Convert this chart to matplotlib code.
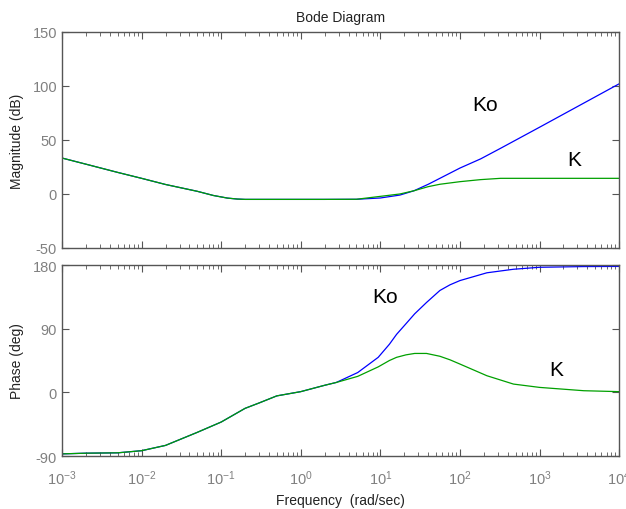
import numpy as np
import matplotlib
matplotlib.use("Agg")
import matplotlib.pyplot as plt
from matplotlib.ticker import LogLocator, NullFormatter, FixedLocator, FuncFormatter

# Bode diagram of Ko (open) vs K (controller)

# magnitude panel
mag_freq = [1e-3, 2e-3, 5e-3, 1e-2, 2e-2, 5e-2, 0.08, 0.12, 0.16, 0.2, 0.5, 1, 2, 5,
            10, 17.6, 26.5, 40, 56, 100, 182, 324, 1000, 1e4]
mag_Ko = [33.3, 27.6, 20.0, 14.5, 8.8, 2.5, -1.4, -3.8, -4.7, -5.0, -5.0, -5.0, -5.0, -4.9,
          -3.7, -1.0, 3.0, 9.0, 14.5, 24.0, 32.5, 42.3, 61.8, 102.0]
mag_K = [33.3, 27.6, 20.0, 14.5, 8.8, 2.5, -1.4, -3.8, -4.7, -5.0, -5.0, -5.0, -5.0, -4.9,
         -2.2, 0.0, 3.0, 6.8, 9.0, 11.4, 13.3, 14.5, 14.5, 14.5]

# phase panel
ph_freq = [1e-3, 2e-3, 5e-3, 1e-2, 2e-2, 5e-2, 0.1, 0.2, 0.3, 0.5, 1, 2, 2.8,
           5.2, 9.4, 13, 16, 21, 27, 38, 56, 75, 100, 218, 470, 1000, 3600, 1e4]
ph_Ko = [-87, -86, -85.5, -82.5, -75, -56.6, -42, -22.6, -15, -5, 1, 10, 14,
         28, 49.5, 68, 82, 97, 111, 127, 144, 152, 158, 169, 174, 176.8, 177.8, 178]
ph_K = [-87, -86, -85.5, -82.5, -75, -56.6, -42, -22.6, -15, -5, 1, 10, 14,
        22.6, 36, 45, 49.5, 53, 55, 55, 51, 46, 40, 23.5, 11.7, 7, 2.3, 1]

plt.rcParams["font.family"] = ["Liberation Sans", "DejaVu Sans"]
plt.rcParams["axes.unicode_minus"] = False
plt.rcParams["mathtext.default"] = "regular"
frame_col = "#555555"
tick_col = "#808080"
blue = "#0000ff"
green = "#00a000"

fig = plt.figure(figsize=(6.26, 5.10), dpi=100)
ax1 = fig.add_axes([0.099, 0.5118, 0.890, 0.4235])
ax2 = fig.add_axes([0.099, 0.1039, 0.890, 0.3745])

ax1.plot(mag_freq, mag_Ko, color=blue, lw=0.9)
ax1.plot(mag_freq, mag_K, color=green, lw=0.9)
ax2.plot(ph_freq, ph_Ko, color=blue, lw=0.9)
ax2.plot(ph_freq, ph_K, color=green, lw=0.9)

def decade_label(v, pos):
    e = int(round(np.log10(v)))
    return r"$10^{%s}$" % ("-%d" % -e if e < 0 else "%d" % e)

for ax in (ax1, ax2):
    ax.set_xscale("log")
    ax.set_xlim(1e-3, 1e4)
    ax.xaxis.set_major_locator(LogLocator(base=10, numticks=20))
    ax.xaxis.set_minor_locator(LogLocator(base=10, subs=np.arange(2, 10), numticks=20))
    ax.xaxis.set_minor_formatter(NullFormatter())
    ax.tick_params(which="both", direction="in", top=True, right=True,
                   colors=frame_col, labelcolor=tick_col, labelsize=10.5)
    ax.tick_params(which="major", length=5, width=0.8)
    ax.tick_params(which="minor", length=3, width=0.6)
    ax.tick_params(axis="x", pad=9)
    for s in ax.spines.values():
        s.set_color(frame_col)
        s.set_linewidth(1.0)

ax1.set_ylim(-50, 150)
ax1.yaxis.set_major_locator(FixedLocator([-50, 0, 50, 100, 150]))
ax1.xaxis.set_major_formatter(NullFormatter())
ax1.set_ylabel("Magnitude (dB)", fontsize=10, color="#222222", labelpad=6)
ax1.set_title("Bode Diagram", fontsize=10, color="#222222", pad=8)

ax2.set_ylim(-90, 180)
ax2.yaxis.set_major_locator(FixedLocator([-90, 0, 90, 180]))
ax2.xaxis.set_major_formatter(FuncFormatter(decade_label))
ax2.set_ylabel("Phase (deg)", fontsize=10, color="#222222", labelpad=6)
ax2.set_xlabel("Frequency  (rad/sec)", fontsize=10, color="#222222", labelpad=4)

# hand-written labels on the curves
ax1.text(204, 83, "Ko", fontsize=15, ha="center", va="center")
ax1.text(2750, 32, "K", fontsize=15, ha="center", va="center")
ax2.text(11.6, 135, "Ko", fontsize=15, ha="center", va="center")
ax2.text(1620, 33, "K", fontsize=15, ha="center", va="center")

fig.savefig("out.png", dpi=100)
